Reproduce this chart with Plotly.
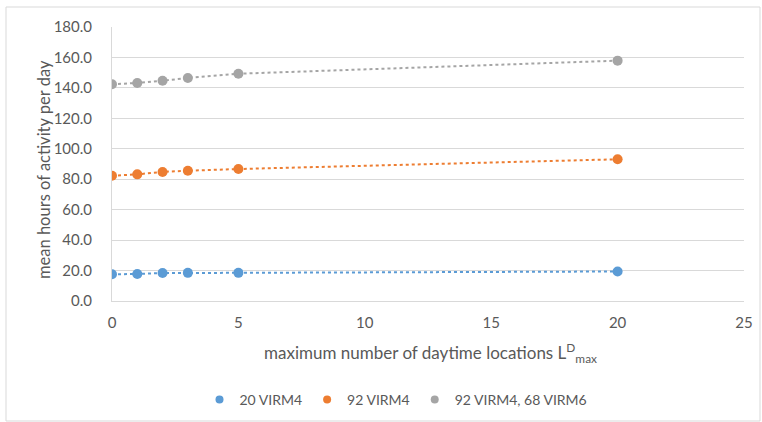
import plotly.graph_objects as go

x_vals = [0, 1, 2, 3, 5, 20]
s1_name = "20 VIRM4"
s1 = [17.6, 17.7, 18.4, 18.5, 18.5, 19.4]
s2_name = "92 VIRM4"
s2 = [82.3, 83.2, 84.8, 85.6, 86.7, 93.1]
s3_name = "92 VIRM4, 68 VIRM6"
s3 = [142.4, 143.2, 144.7, 146.5, 149.3, 157.9]
y_ticks = [0, 20, 40, 60, 80, 100, 120, 140, 160, 180]
x_ticks = [0, 5, 10, 15, 20, 25]

colors = ["#5b9bd5", "#ed7d31", "#a5a5a5"]
FONT = "Lato, 'Open Sans', sans-serif"
TXT = "#595959"

L, R, T, B = 112, 18, 27, 121
W, H = 762, 422
pw, ph = W - L - R, H - T - B

fig = go.Figure()
series = [(s1_name, s1, colors[0]), (s2_name, s2, colors[1]), (s3_name, s3, colors[2])]
for name, ys, c in series:
    fig.add_trace(go.Scatter(
        x=x_vals, y=ys, name=name, mode="lines+markers", showlegend=False,
        line=dict(color=c, width=2, dash="dot"),
        marker=dict(color=c, size=10),
    ))
# legend entries (marker only, as in the reference)
for name, ys, c in series:
    fig.add_trace(go.Scatter(
        x=[None], y=[None], name=name, mode="markers",
        marker=dict(color=c, size=8), showlegend=True,
    ))

def px_x(p):
    return (p - L) / pw

def px_y(p):
    return (H - B - p) / ph

fig.update_layout(
    width=W, height=H,
    margin=dict(l=L, r=R, t=T, b=B, autoexpand=False),
    paper_bgcolor="white", plot_bgcolor="white",
    font=dict(family=FONT, size=15, color=TXT),
    showlegend=True,
    legend=dict(orientation="h", x=px_x(396), xanchor="center", y=px_y(400), yanchor="middle",
                font=dict(size=14, color=TXT), itemwidth=30, tracegroupgap=0),
    xaxis=dict(range=[0, 25], tickvals=x_ticks, showgrid=False, zeroline=False,
               showline=True, linecolor="#d9d9d9", linewidth=1, ticks="",
               ticklabelstandoff=8, automargin=False,
               tickfont=dict(size=15, color=TXT)),
    yaxis=dict(range=[0, 180], tickvals=y_ticks, tickformat=".1f", showgrid=True,
               gridcolor="#d9d9d9", gridwidth=1, zeroline=False, showline=True,
               linecolor="#d9d9d9", ticks="", ticklabelstandoff=16, automargin=False,
               tickfont=dict(size=15, color=TXT)),
    annotations=[
        dict(text="maximum number of daytime locations L<sup>D</sup><sub>max</sub>",
             xref="paper", yref="paper", x=px_x(430), y=px_y(353), xanchor="center",
             yanchor="middle", showarrow=False, font=dict(size=17, color=TXT)),
        dict(text="mean hours of activity per day", xref="paper", yref="paper",
             x=px_x(44), y=px_y(170), xanchor="center", yanchor="middle",
             textangle=-90, showarrow=False, font=dict(size=16.5, color=TXT)),
    ],
    shapes=[
        dict(type="rect", xref="paper", yref="paper", x0=px_x(6), x1=px_x(760),
             y0=px_y(421), y1=px_y(7), line=dict(color="#d9d9d9", width=1),
             fillcolor="rgba(0,0,0,0)", layer="below"),
    ],
)

fig.write_html("out.html", config={"displayModeBar": False},
               post_script="document.body.style.margin='0';")
